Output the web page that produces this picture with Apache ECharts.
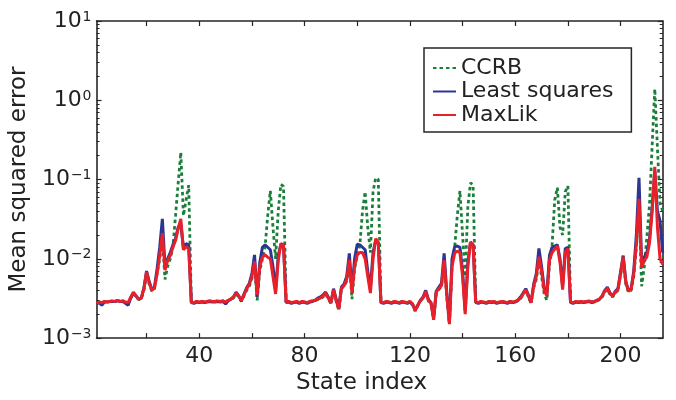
<!DOCTYPE html>
<html>
<head>
<meta charset="utf-8">
<script src="https://cdn.jsdelivr.net/npm/echarts@6/dist/echarts.min.js"></script>
<style>html,body{margin:0;padding:0;background:#fff}#c{width:676px;height:400px}</style>
</head>
<body>
<div id="c"></div>
<script>
// Series names (legend order)
const seriesNames = ['CCRB', 'Least squares', 'MaxLik'];

// Mean squared error values, in units of 1e-3, for state index 1..216
const ccrbMilli = [
  2.75,2.85,2.75,2.9,2.85,2.9,2.95,2.9,3.0,2.9, 2.95,2.85,2.75,3.2,3.7,3.35,3.05,3.15,4.0,6.5,
  4.8,3.9,4.2,6.5,10,18,5.5,8,10,14, 35,90,220,35,55,85,
  2.85,2.8,2.9,2.85,2.9,2.85,2.9,2.95,2.9,2.9, 2.95,2.9,2.95,2.85,3.0,3.05,3.2,3.6,3.3,2.9,
  3.4,4.0,4.5,5.6,8.5,3.0,7.0,10,14,35, 72,25,10,40,87,82,
  2.85,2.9,2.8,2.85,2.9,2.8,2.9,2.85,2.8,2.9, 2.95,3.0,3.05,3.15,3.3,3.6,3.1,2.75,4.0,2.9,
  2.25,4.2,4.5,5.2,9.0,3.1,7.5,11,15,40, 70,25,12,70,105,100,
  2.85,2.8,2.9,2.85,2.8,2.9,2.85,2.8,2.9,2.85, 2.8,2.9,2.7,2.2,2.55,2.95,3.15,3.8,2.95,2.75,
  1.7,3.7,4.1,4.5,9,3.3,1.5,8,14,35, 72,20,6,45,91,85,
  2.85,2.8,2.9,2.85,2.8,2.9,2.85,2.9,2.8,2.85, 2.9,2.85,2.8,2.9,2.85,2.9,2.95,3.15,3.5,4.0,
  3.3,2.75,4.3,5.5,9.5,6,3.6,3.0,8.5,15, 55,79,25,20,70,83,
  2.85,2.8,2.9,2.85,2.9,2.85,2.9,2.95,2.85,2.9, 2.95,3.05,3.3,3.8,4.2,3.5,3.3,3.7,4.0,6.2,
  10,4.8,3.8,4.0,6.0,14,45,4.5,8,19, 49,270,1390,250,50,40
];
const lsMilli = [
  2.7,2.8,2.6,2.85,2.85,2.9,2.9,2.9,2.95,2.9, 2.9,2.75,2.6,3.2,3.7,3.4,3.1,3.2,4.3,7.0,
  5.2,4.1,4.4,7.5,14,32,8.2,10,12,15, 18,25,28,13.5,15.5,15,
  2.8,2.75,2.85,2.8,2.85,2.8,2.85,2.9,2.85,2.85, 2.9,2.85,2.9,2.7,2.95,3.1,3.3,3.8,3.4,2.95,
  3.6,4.3,4.9,6.5,11.2,3.3,9.0,14,15,14, 13,8,4.0,11,15,15,
  2.8,2.85,2.75,2.8,2.85,2.75,2.85,2.8,2.75,2.85, 2.9,3.0,3.2,3.3,3.5,3.8,3.3,2.75,4.2,3.1,
  2.4,4.4,4.8,6.0,11.7,4.0,10,15.3,15,14, 13,7,4.2,12,17,16,
  2.8,2.75,2.85,2.8,2.75,2.85,2.8,2.75,2.85,2.8, 2.75,2.85,2.65,2.3,2.6,3.0,3.3,4.0,3.1,2.8,
  1.8,3.9,4.4,4.9,11.7,3.8,1.6,10,14.2,14.5, 14,7,2.2,9,16,15,
  2.8,2.75,2.85,2.8,2.75,2.85,2.8,2.85,2.75,2.8, 2.85,2.8,2.75,2.85,2.8,2.85,3.0,3.3,3.7,4.2,
  3.5,2.8,4.8,6.5,13.5,8,4.3,3.6,11,14, 14.5,15,10,4.5,13.5,14,
  2.8,2.75,2.85,2.8,2.85,2.8,2.85,2.9,2.8,2.85, 3.0,3.1,3.4,4.0,4.4,3.7,3.4,3.9,4.2,6.8,
  11,5.2,4.0,4.2,7,20,105,9,10.5,12, 18,45,130,40,30,12
];
const mlMilli = [
  2.75,2.85,2.8,2.9,2.85,2.9,2.95,2.9,3.0,2.9, 2.95,2.85,2.8,3.3,3.8,3.4,3.1,3.2,4.2,6.8,
  5.0,4.0,4.3,6.5,11,21,7.2,9.5,11,14, 17,24,32,13,14.2,13.5,
  2.85,2.8,2.9,2.85,2.9,2.85,2.9,2.95,2.9,2.9, 2.95,2.9,2.95,2.85,3.0,3.1,3.3,3.7,3.4,3.0,
  3.5,4.2,4.7,6.0,9.3,3.5,8.0,10.5,11.2,10.5, 10.0,6.0,3.6,9.5,15.6,15.0,
  2.85,2.9,2.8,2.85,2.9,2.8,2.9,2.85,2.8,2.9, 2.95,3.0,3.1,3.2,3.4,3.7,3.2,2.8,4.1,3.0,
  2.3,4.3,4.6,5.5,9.7,3.7,8.0,11.2,12,12, 10,6,3.7,10,18,16,
  2.85,2.8,2.9,2.85,2.8,2.9,2.85,2.8,2.9,2.85, 2.8,2.9,2.7,2.2,2.6,3.0,3.2,3.9,3.0,2.8,
  1.7,3.8,4.2,4.6,9.6,3.5,1.5,8.0,11.8,12.5, 12,6,2.0,8,16.4,15,
  2.85,2.8,2.9,2.85,2.8,2.9,2.85,2.9,2.8,2.85, 2.9,2.85,2.8,2.9,2.85,2.9,3.0,3.2,3.6,4.1,
  3.4,2.8,4.5,6.0,10.6,7.0,4.0,3.4,9.6,12, 13.3,14.5,9,4.1,12,13.5,
  2.85,2.8,2.9,2.85,2.9,2.85,2.9,2.95,2.85,2.9, 3.0,3.1,3.4,3.9,4.3,3.6,3.4,3.8,4.1,6.5,
  10.6,5.0,3.9,4.1,6.5,15.6,57,7.8,9.5,10.6, 16,40,145,25,10,8.5
];

// Axis tick / label values
const xTickValues = [20, 40, 60, 80, 100, 120, 140, 160, 180, 200];
const xLabelValues = [40, 80, 120, 160, 200];
const yDecadeValues = [0.001, 0.01, 0.1, 1, 10];
const yMinorValues = [];
[-3, -2, -1, 0].forEach(function (e) {
  for (let m = 2; m <= 9; m++) yMinorValues.push(Number((m * Math.pow(10, e)).toPrecision(3)));
});

const F = 'DejaVu Sans';
const C = '#222';
const AX = '#262626';

function pairs(arr) { return arr.map(function (v, k) { return [k + 1, v / 1000]; }); }

const frameLine = { show: true, onZero: false, lineStyle: { color: AX, width: 1.6 } };
const tickStyle = { color: AX, width: 1.2 };

const chart = echarts.init(document.getElementById('c'), null, { renderer: 'canvas' });
chart.setOption({
  animation: false,
  backgroundColor: '#fff',
  grid: { left: 92.7, right: 13.3, top: 21, bottom: 57.3, containLabel: false },
  legend: {
    orient: 'vertical', left: 424, top: 48,
    data: seriesNames,
    itemWidth: 23, itemHeight: 12, itemGap: 1.5,
    padding: [9, 18, 6, 8],
    borderColor: AX, borderWidth: 1.5, backgroundColor: '#fff',
    itemStyle: { opacity: 0 },
    textStyle: { fontSize: 22, fontFamily: F, color: C, lineHeight: 22 }
  },
  xAxis: [
    {
      type: 'value', min: 1, max: 216, position: 'bottom',
      axisLine: frameLine,
      axisTick: { show: true, inside: true, length: 5, customValues: xTickValues, lineStyle: tickStyle },
      axisLabel: { show: true, customValues: xLabelValues, margin: 7, fontSize: 22, fontFamily: F, color: C },
      splitLine: { show: false },
      name: 'State index', nameLocation: 'middle', nameGap: 31,
      nameTextStyle: { fontSize: 23, fontFamily: F, color: C, padding: [0, 36, 0, 0] }
    },
    {
      type: 'value', min: 1, max: 216, position: 'top',
      axisLine: frameLine,
      axisTick: { show: true, inside: true, length: 5, customValues: xTickValues, lineStyle: tickStyle },
      axisLabel: { show: false }, splitLine: { show: false }
    }
  ],
  yAxis: [
    {
      type: 'log', logBase: 10, min: 0.001, max: 10, position: 'left',
      axisLine: frameLine,
      axisTick: { show: true, inside: true, length: 5, customValues: yDecadeValues, lineStyle: tickStyle },
      axisLabel: {
        show: true, customValues: yDecadeValues, margin: 5, showMinLabel: true, showMaxLabel: true,
        formatter: function (v) {
          const e = Math.round(Math.log10(v));
          return '{b|10}{s|' + (e < 0 ? '\u2212' + (-e) : String(e)) + '}';
        },
        rich: {
          b: { fontSize: 22, fontFamily: F, color: C, lineHeight: 22, padding: [5.5, 0, 5.5, 0] },
          s: { fontSize: 14, fontFamily: F, color: C, lineHeight: 14, verticalAlign: 'top', padding: [0, 0, 0, 1] }
        }
      },
      splitLine: { show: false },
      name: 'Mean squared error', nameLocation: 'middle', nameGap: 49,
      nameTextStyle: { fontSize: 23, fontFamily: F, color: C }
    },
    {
      type: 'log', logBase: 10, min: 0.001, max: 10, position: 'right',
      axisLine: frameLine,
      axisTick: { show: true, inside: true, length: 5, customValues: yDecadeValues, lineStyle: tickStyle },
      axisLabel: { show: false }, splitLine: { show: false }
    },
    {
      type: 'log', logBase: 10, min: 0.001, max: 10, position: 'left',
      axisLine: { show: false },
      axisTick: { show: true, inside: true, length: 3, customValues: yMinorValues, lineStyle: { color: AX, width: 1 } },
      axisLabel: { show: false }, splitLine: { show: false }
    },
    {
      type: 'log', logBase: 10, min: 0.001, max: 10, position: 'right',
      axisLine: { show: false },
      axisTick: { show: true, inside: true, length: 3, customValues: yMinorValues, lineStyle: { color: AX, width: 1 } },
      axisLabel: { show: false }, splitLine: { show: false }
    }
  ],
  series: [
    {
      name: seriesNames[0], type: 'line', xAxisIndex: 0, yAxisIndex: 0,
      data: pairs(ccrbMilli), symbol: 'none', z: 2,
      itemStyle: { color: '#1b7f3b' },
      lineStyle: { color: '#1b7f3b', width: 2.8, type: [3.5, 3] }
    },
    {
      name: seriesNames[1], type: 'line', xAxisIndex: 0, yAxisIndex: 0,
      data: pairs(lsMilli), symbol: 'none', z: 3,
      itemStyle: { color: '#2b3592' },
      lineStyle: { color: '#2b3592', width: 3 }
    },
    {
      name: seriesNames[2], type: 'line', xAxisIndex: 0, yAxisIndex: 0,
      data: pairs(mlMilli), symbol: 'none', z: 4,
      itemStyle: { color: '#e8202a' },
      lineStyle: { color: '#e8202a', width: 3 }
    }
  ]
});
</script>
</body>
</html>
